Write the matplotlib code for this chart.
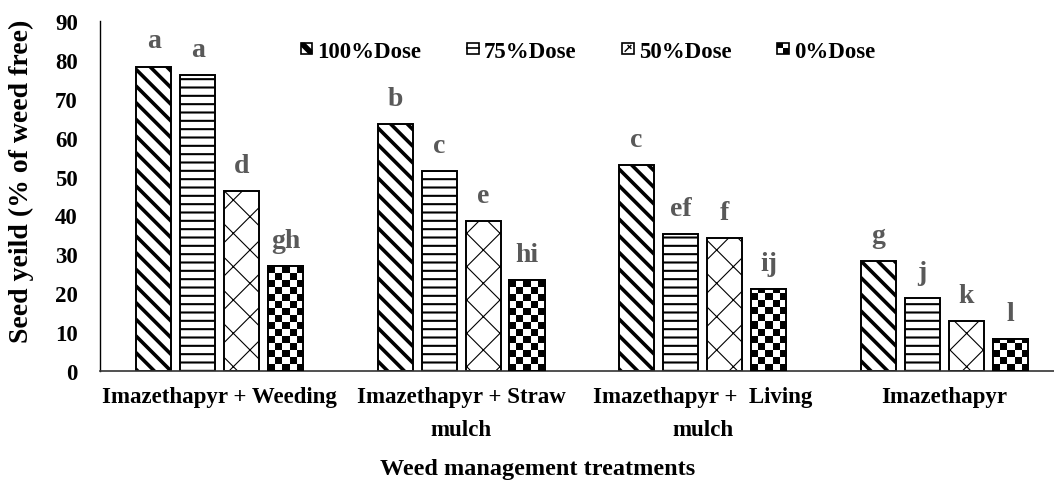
import matplotlib
matplotlib.use("Agg")
import matplotlib.pyplot as plt
import numpy as np
from matplotlib.patches import Rectangle, Polygon
from matplotlib.lines import Line2D
from matplotlib.legend_handler import HandlerBase

plt.rcParams['font.family'] = ['Liberation Serif', 'DejaVu Serif']
plt.rcParams['font.weight'] = 'bold'

# data
treatments = ['Imazethapyr + Weeding', 'Imazethapyr + Straw\nmulch',
              'Imazethapyr +  Living\nmulch', 'Imazethapyr']
doses = ['100%Dose', '75%Dose', '50%Dose', '0%Dose']
dose_100 = [78.3, 63.5, 53.0, 28.3]
dose_75 = [76.2, 51.4, 35.2, 18.8]
dose_50 = [46.3, 38.6, 34.2, 12.9]
dose_0 = [27.0, 23.4, 21.1, 8.2]
letters_100 = ['a', 'b', 'c', 'g']
letters_75 = ['a', 'c', 'ef', 'j']
letters_50 = ['d', 'e', 'f', 'k']
letters_0 = ['gh', 'hi', 'ij', 'l']

series = [dose_100, dose_75, dose_50, dose_0]
letters = [letters_100, letters_75, letters_50, letters_0]
hatches = ['\\\\', '--', 'x', None]
hatch_lw = [2.6, 1.5, 0.8, 1.0]

fig = plt.figure(figsize=(10.54, 4.81), dpi=100)
ax = fig.add_axes([100/1054, 109/481, 954/1054, 350/481])

x = np.arange(len(treatments))
pitch = 0.182
width = 0.145


def checker(ax, bar, cell_px=7.0):
    # checkerboard fill clipped to the bar
    x0, y0 = bar.get_x(), bar.get_y()
    w, h = bar.get_width(), bar.get_height()
    cx = cell_px / 241.5
    cy = cell_px / (350 / 90)
    nx = int(np.ceil(w / cx))
    ny = int(np.ceil(h / cy))
    img = (np.add.outer(np.arange(ny), np.arange(nx)) % 2).astype(float)
    im = ax.imshow(img, cmap='gray', extent=(x0, x0 + nx * cx, y0, y0 + ny * cy),
                   origin='lower', interpolation='nearest', aspect='auto', zorder=2)
    im.set_clip_path(bar)


handles = []
for i, vals in enumerate(series):
    pos = x + (i - 1.5) * pitch
    with plt.rc_context({'hatch.linewidth': hatch_lw[i]}):
        bars = ax.bar(pos, vals, width, color='white', edgecolor='black',
                      hatch=hatches[i], linewidth=1.4, zorder=1)
    if hatches[i] is None:
        for b in bars:
            checker(ax, b)
        ax.bar(pos, vals, width, fill=False, edgecolor='black', linewidth=1.4, zorder=3)
    handles.append(bars)
    for p, v, lab in zip(pos, vals, letters[i]):
        ax.annotate(lab, (p, v), xytext=(0, 19), textcoords='offset pixels',
                    ha='center', va='baseline', fontsize=20, color='#595959',
                    fontweight='bold')


class SwatchHandler(HandlerBase):
    # small square swatches like the ones in the original legend
    def __init__(self, kind):
        super().__init__()
        self.kind = kind

    def create_artists(self, legend, orig_handle, xdescent, ydescent, width, height, fontsize, trans):
        s = min(width, height)
        x0, y0 = -xdescent, -ydescent + (height - s) / 2
        arts = []
        if self.kind == 'diag':
            arts.append(Polygon([(x0, y0 + s), (x0 + s * 0.35, y0 + s), (x0 + s, y0 + s * 0.35),
                                 (x0 + s, y0), (x0 + s * 0.65, y0), (x0, y0 + s * 0.65)],
                                closed=True, facecolor='black', transform=trans))
        elif self.kind == 'hline':
            arts.append(Line2D([x0, x0 + s], [y0 + s / 2] * 2, color='black', lw=1.2, transform=trans))
        elif self.kind == 'cross':
            arts.append(Line2D([x0 + s * 0.25, x0 + s * 0.75], [y0 + s * 0.25, y0 + s * 0.75],
                               color='black', lw=1.0, transform=trans))
            arts.append(Line2D([x0 + s * 0.5, x0 + s * 0.75], [y0 + s * 0.75, y0 + s * 0.5],
                               color='black', lw=1.0, transform=trans))
        else:
            arts.append(Rectangle((x0, y0 + s / 2), s / 2, s / 2, facecolor='black', transform=trans))
            arts.append(Rectangle((x0 + s / 2, y0), s / 2, s / 2, facecolor='black', transform=trans))
        arts.append(Rectangle((x0, y0), s, s, fill=False, edgecolor='black', lw=1.2, transform=trans))
        return arts


ax.set_xlim(-0.495, 3.455)
ax.set_ylim(0, 90)
ax.set_yticks(np.arange(0, 91, 10))
ax.set_xticks(x)
ax.set_xticklabels(treatments, fontsize=16.5, fontweight='bold', linespacing=1.75)
ax.tick_params(axis='both', length=0, labelsize=16.5)
ax.tick_params(axis='y', pad=16)
ax.tick_params(axis='x', pad=11)
for lab in ax.get_yticklabels():
    lab.set_fontweight('bold')
for s in ['top', 'right']:
    ax.spines[s].set_visible(False)
ax.spines['left'].set_linewidth(1.0)
ax.spines['bottom'].set_linewidth(1.2)
ax.spines['bottom'].set_color('#333333')

fig.text(21/1054, 1 - 181/481, 'Seed yeild (% of weed free)', rotation=90,
         ha='center', va='center', fontsize=20, fontweight='bold')
fig.text(538/1054, 1 - 470/481, 'Weed management treatments',
         ha='center', va='center', fontsize=17.5, fontweight='bold')

kinds = ['diag', 'hline', 'cross', 'checker']
leg = fig.legend(handles, doses, loc='center', bbox_to_anchor=(588/1054, 1 - 52/481),
                 ncol=4, frameon=False, handlelength=0.5, handleheight=0.5,
                 handletextpad=0.22, columnspacing=2.0,
                 handler_map={h: SwatchHandler(k) for h, k in zip(handles, kinds)},
                 prop={'weight': 'bold', 'size': 16.5})

fig.savefig('out.png', dpi=100)
